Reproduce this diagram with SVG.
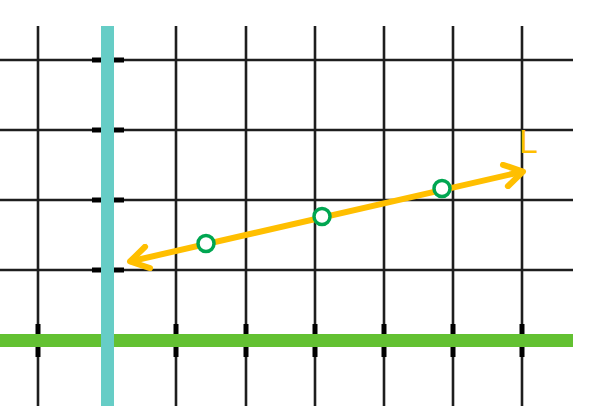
<svg xmlns="http://www.w3.org/2000/svg" width="602" height="406" viewBox="0 0 602 406">
<defs>
<style>
.grid line{stroke:#1e1e1e;stroke-width:2.6}
.tick line{stroke:#000;stroke-width:5;stroke-linecap:butt}
.pt{fill:#fff;stroke:#00A651;stroke-width:3.5}
.lbl{font-family:"Liberation Sans",Arial,sans-serif;font-size:34px;font-weight:300;fill:#FFBF00}
</style>
<marker id="chev" markerUnits="userSpaceOnUse" viewBox="-24 -14 28 28" markerWidth="28" markerHeight="28" refX="0" refY="0" orient="auto-start-reverse">
<path d="M-18,-11 L0,0 L-18,11" fill="none" stroke="#FFBF00" stroke-width="6" stroke-linecap="round" stroke-linejoin="round"/>
</marker>
</defs>
<rect width="602" height="406" fill="#fff"/>
<g id="grid" class="grid">
<line x1="0" y1="60" x2="573" y2="60"/>
<line x1="0" y1="130" x2="573" y2="130"/>
<line x1="0" y1="200" x2="573" y2="200"/>
<line x1="0" y1="270" x2="573" y2="270"/>
<line x1="38" y1="26" x2="38" y2="406"/>
<line x1="176" y1="26" x2="176" y2="406"/>
<line x1="246" y1="26" x2="246" y2="406"/>
<line x1="315" y1="26" x2="315" y2="406"/>
<line x1="384" y1="26" x2="384" y2="406"/>
<line x1="453" y1="26" x2="453" y2="406"/>
<line x1="522" y1="26" x2="522" y2="406"/>
</g>
<g id="ticks" class="tick">
<line x1="92" y1="60" x2="101" y2="60"/><line x1="114" y1="60" x2="124" y2="60"/>
<line x1="92" y1="130" x2="101" y2="130"/><line x1="114" y1="130" x2="124" y2="130"/>
<line x1="92" y1="200" x2="101" y2="200"/><line x1="114" y1="200" x2="124" y2="200"/>
<line x1="92" y1="270" x2="101" y2="270"/><line x1="114" y1="270" x2="124" y2="270"/>
<line x1="38" y1="324" x2="38" y2="334"/><line x1="38" y1="347" x2="38" y2="357"/>
<line x1="176" y1="324" x2="176" y2="334"/><line x1="176" y1="347" x2="176" y2="357"/>
<line x1="246" y1="324" x2="246" y2="334"/><line x1="246" y1="347" x2="246" y2="357"/>
<line x1="315" y1="324" x2="315" y2="334"/><line x1="315" y1="347" x2="315" y2="357"/>
<line x1="384" y1="324" x2="384" y2="334"/><line x1="384" y1="347" x2="384" y2="357"/>
<line x1="453" y1="324" x2="453" y2="334"/><line x1="453" y1="347" x2="453" y2="357"/>
<line x1="522" y1="324" x2="522" y2="334"/><line x1="522" y1="347" x2="522" y2="357"/>
</g>
<g id="axes">
<line id="x-axis" x1="0" y1="340.5" x2="573" y2="340.5" stroke="#63C132" stroke-width="13"/>
<line id="y-axis" x1="107.5" y1="26" x2="107.5" y2="406" stroke="#66CDC6" stroke-width="13"/>
</g>
<g id="connectors">
<line id="line-L" x1="130" y1="261.5" x2="523" y2="171.5" stroke="#FFBF00" stroke-width="6" marker-start="url(#chev)" marker-end="url(#chev)"/>
</g>
<g id="p1"><circle class="pt" cx="206" cy="243.5" r="8"/></g>
<g id="p2"><circle class="pt" cx="322" cy="216.5" r="8"/></g>
<g id="p3"><circle class="pt" cx="442" cy="188.5" r="8"/></g>
<g id="label-L"><text class="lbl" x="519" y="153">L</text></g>
</svg>
